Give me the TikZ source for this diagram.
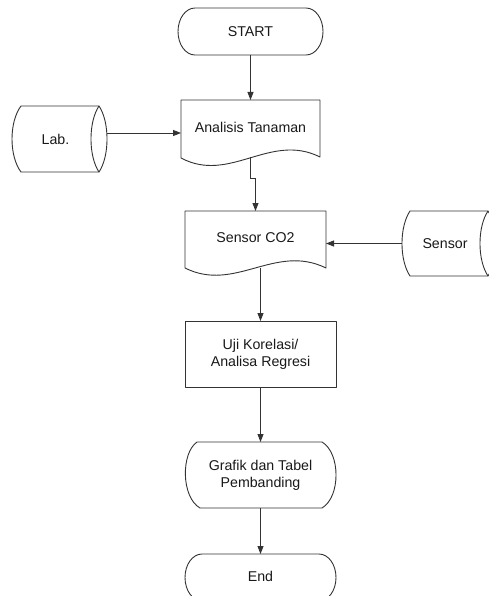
\documentclass[tikz,border=0pt]{standalone}
\usepackage{fontspec}
\setmainfont{Liberation Sans}
\usetikzlibrary{arrows.meta}
\tikzset{
  lbl/.style={inner sep=0pt, outer sep=0pt, font=\fontsize{14.2}{17}\selectfont, align=center, text=black!90},
  shp/.style={draw=black!80, line width=0.9pt, line join=round},
  arr/.style={draw=black!80, line width=0.9pt, -{Triangle[length=8pt,width=6pt]}},
}
\begin{document}
\begin{tikzpicture}[x=1pt,y=-1pt]
\useasboundingbox (0,0) rectangle (489,596);
\fill[white] (0,0) rectangle (489,596);
\clip (0,0) rectangle (489,596);
% shapes
\draw[shp] (195,8) -- (306,8) .. controls (315.4,8) and (323,18.5) .. (323,31.5) .. controls (323,44.5) and (315.4,55) .. (306,55) -- (195,55) .. controls (185.6,55) and (178,44.5) .. (178,31.5) .. controls (178,18.5) and (185.6,8) .. (195,8) -- cycle;
\draw[shp] (181,158) -- (181,100) -- (320,100) -- (320,157) .. controls (270,132) and (230,184) .. (181,158) -- cycle;
\draw[shp] (21,106) -- (99,106) .. controls (109.7,122) and (109.7,156) .. (99,172) -- (21,172) .. controls (9,156) and (9,122) .. (21,106) -- cycle;
\draw[shp] (99,106) .. controls (88.3,122) and (88.3,156) .. (99,172);
\draw[shp] (185,268) -- (185,211) -- (326,211) -- (326,268) .. controls (275,243) and (235,293) .. (185,268) -- cycle;
\draw[shp] (410,211) -- (488,211) .. controls (498.7,227) and (498.7,260) .. (488,276) -- (410,276) .. controls (399.3,260) and (399.3,227) .. (410,211) -- cycle;
\draw[shp] (488,211) .. controls (477.3,227) and (477.3,260) .. (488,276);
\draw[shp] (185,321) rectangle (336,387);
\draw[shp] (197,442) -- (322,442) .. controls (340.7,453) and (340.7,497) .. (322,508) -- (200,508) .. controls (181,497) and (181,453) .. (197,442) -- cycle;
\draw[shp] (202,554) -- (319,554) .. controls (328.4,554) and (336,564.5) .. (336,577.5) .. controls (336,590.5) and (328.4,601) .. (319,601) -- (202,601) .. controls (192.6,601) and (185,590.5) .. (185,577.5) .. controls (185,564.5) and (192.6,554) .. (202,554) -- cycle;
% text nodes
\node[lbl, minimum width=145pt, minimum height=47pt] (start) at (250.5,31.5) {START};
\node[lbl, minimum width=139pt, minimum height=57.5pt] (ana) at (250.5,128.75) {\raisebox{2pt}{Analisis Tanaman}};
\node[lbl, minimum width=95pt, minimum height=66pt] (lab) at (59.5,139) {Lab.\hspace*{8pt}};
\node[lbl, minimum width=141pt, minimum height=57pt] (co2) at (255.5,239.5) {\raisebox{3.5pt}{Sensor CO2}};
\node[lbl, minimum width=86pt, minimum height=65pt] (sensor) at (445,243.5) {Sensor};
\node[lbl, minimum width=151pt, minimum height=66pt] (uji) at (260.5,354) {Uji Korelasi/\\Analisa Regresi};
\node[lbl, minimum width=151pt, minimum height=66pt] (graf) at (260.5,475) {Grafik dan Tabel\\Pembanding};
\node[lbl, minimum width=151pt, minimum height=47pt] (fin) at (260.5,577.5) {\raisebox{2pt}{End}};
% connectors
\coordinate (labout) at ([yshift=6pt]lab.east);
\draw[arr] (start) -- (ana);
\draw[arr] (ana.south) -- ++(0,20.5) -| (co2.north);
\draw[arr] (labout) -- (labout -| ana.west);
\draw[arr] (sensor.west) -- (sensor.west -| co2.east);
\draw[arr] (uji.north |- co2.south) -- (uji.north);
\draw[arr] (uji) -- (graf);
\draw[arr] (graf) -- (fin);
\end{tikzpicture}
\end{document}
